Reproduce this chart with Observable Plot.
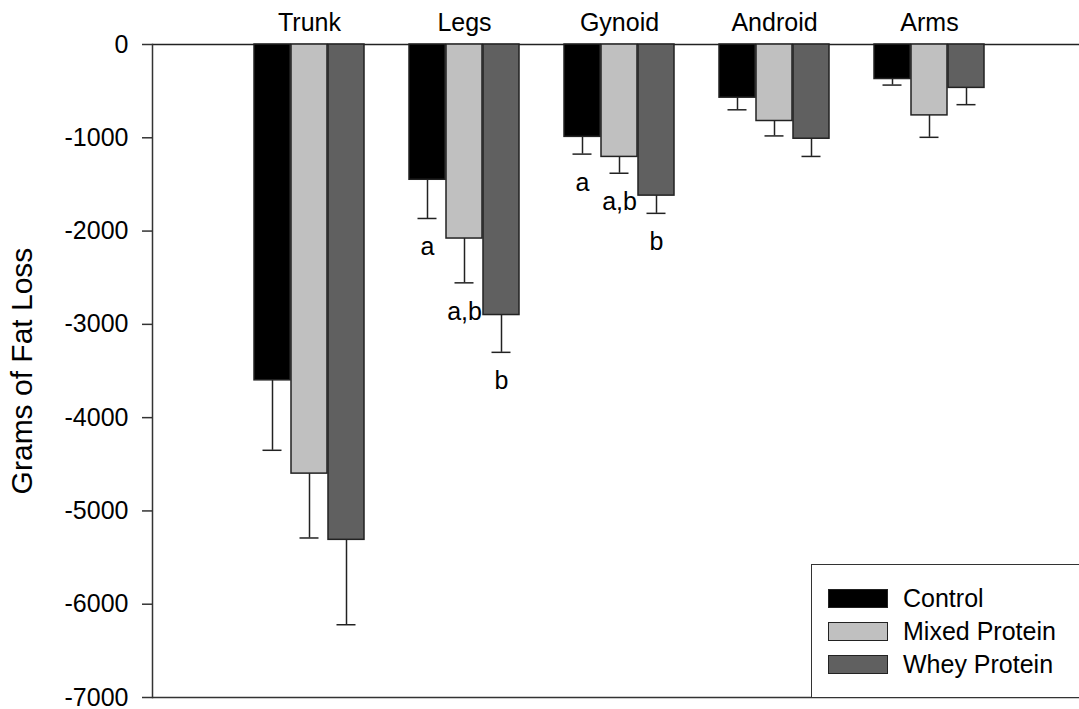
<!DOCTYPE html>
<html>
<head>
<meta charset="utf-8">
<script src="https://cdn.jsdelivr.net/npm/d3@7"></script>
<script src="https://cdn.jsdelivr.net/npm/@observablehq/plot@0.6"></script>
<style>
  html, body { margin: 0; padding: 0; background: #fff; overflow: hidden; }
  #wrap { position: relative; width: 1079px; height: 709px; font-family: Arial, "Liberation Sans", sans-serif; }
  #legend { position: absolute; left: 811px; top: 564px; width: 300px; height: 133px; border-left: 1.5px solid #333; border-top: 1.5px solid #333; box-sizing: border-box; background: #fff; }
  .item { position: absolute; left: 16px; height: 30px; display: flex; align-items: center; }
  .sw { width: 58px; height: 17px; border: 1.5px solid #222; margin-right: 15px; }
  .lab { font-size: 25px; color: #000; line-height: 25px; }
</style>
</head>
<body>
<div id="wrap"></div>
<script>
const categories = ["Trunk", "Legs", "Gynoid", "Android", "Arms"];
const seriesNames = ["Control", "Mixed Protein", "Whey Protein"];
const controlMean = [-3600, -1450, -990, -570, -370];
const controlSE = [750, 415, 185, 130, 65];
const mixedMean = [-4600, -2080, -1205, -820, -760];
const mixedSE = [690, 475, 175, 160, 235];
const wheyMean = [-5310, -2900, -1620, -1010, -465];
const wheySE = [910, 400, 190, 190, 180];
const letterCats = ["Legs", "Legs", "Legs", "Gynoid", "Gynoid", "Gynoid"];
const letterSeries = ["Control", "Mixed Protein", "Whey Protein", "Control", "Mixed Protein", "Whey Protein"];
const letterText = ["a", "a,b", "b", "a", "a,b", "b"];
const yTicks = [0, -1000, -2000, -3000, -4000, -5000, -6000, -7000];
const yLabel = "Grams of Fat Loss";

const colors = ["#000000", "#c0c0c0", "#606060"];
const means = [controlMean, mixedMean, wheyMean];
const ses = [controlSE, mixedSE, wheySE];

const rows = [];
seriesNames.forEach((s, si) => {
  categories.forEach((c, ci) => {
    rows.push({cat: c, series: s, value: means[si][ci], se: ses[si][ci], lower: means[si][ci] - ses[si][ci]});
  });
});
const letters = letterText.map((t, i) => {
  const r = rows.find(d => d.cat === letterCats[i] && d.series === letterSeries[i]);
  return {cat: r.cat, series: r.series, y: r.lower, text: t};
});

const barW = 37;
const marks = [];
seriesNames.forEach((s, si) => {
  const sub = rows.filter(d => d.series === s);
  const off = (si - 1) * barW;
  marks.push(Plot.ruleX(sub, {x: "cat", y1: "value", y2: "lower", dx: off, stroke: "#222", strokeWidth: 1.5}));
  marks.push(Plot.tickY(sub, {x: "cat", y: "lower", dx: off, insetLeft: 45.5, insetRight: 45.5, stroke: "#222", strokeWidth: 1.5}));
});
seriesNames.forEach((s, si) => {
  const sub = rows.filter(d => d.series === s);
  marks.push(Plot.barY(sub, {x: "cat", y: "value", fill: colors[si], stroke: "#222", strokeWidth: 1.5,
    insetLeft: si * barW, insetRight: (2 - si) * barW}));
});
seriesNames.forEach((s, si) => {
  const sub = letters.filter(d => d.series === s);
  marks.push(Plot.text(sub, {x: "cat", y: "y", text: "text", dx: (si - 1) * barW, dy: 29, fontSize: 25, fill: "#000"}));
});

const chart = Plot.plot({
  width: 1079,
  height: 709,
  marginTop: 44,
  marginBottom: 12,
  marginLeft: 152,
  marginRight: 0,
  style: {fontFamily: "Arial, 'Liberation Sans', sans-serif", background: "transparent", color: "#000"},
  x: {domain: categories, range: [229.875, 1008.625], paddingInner: 0.2873, paddingOuter: 0.14365, axis: null},
  y: {domain: [-7000, 0], axis: null},
  marks: [
    Plot.ruleY([0], {stroke: "#222", strokeWidth: 1.5}),
    Plot.ruleY([-7000], {stroke: "#333", strokeWidth: 1.5}),
    Plot.frame({anchor: "left", stroke: "#333", strokeWidth: 1.5}),
    Plot.axisY({ticks: yTicks, tickSize: 10, tickPadding: 14, fontSize: 25, label: null, stroke: "#333", strokeWidth: 1.5, tickFormat: d => d === 0 ? "0" : "-" + Math.abs(d)}),
    Plot.axisX({anchor: "top", tickSize: 0, tickPadding: 14, fontSize: 25, label: null}),
    Plot.text([yLabel], {frameAnchor: "left", textAnchor: "middle", rotate: -90, dx: -130, fontSize: 30, text: d => d, fill: "#000"}),
    ...marks
  ]
});

const wrap = document.getElementById("wrap");
wrap.appendChild(chart);
chart.style.position = "absolute";
chart.style.left = "0";
chart.style.top = "0";

const legend = document.createElement("div");
legend.id = "legend";
const tops = [18, 51, 84];
seriesNames.forEach((s, i) => {
  const it = document.createElement("div");
  it.className = "item";
  it.style.top = tops[i] + "px";
  const sw = document.createElement("div");
  sw.className = "sw";
  sw.style.background = colors[i];
  const lb = document.createElement("div");
  lb.className = "lab";
  lb.textContent = s;
  it.appendChild(sw);
  it.appendChild(lb);
  legend.appendChild(it);
});
wrap.appendChild(legend);
</script>
</body>
</html>
